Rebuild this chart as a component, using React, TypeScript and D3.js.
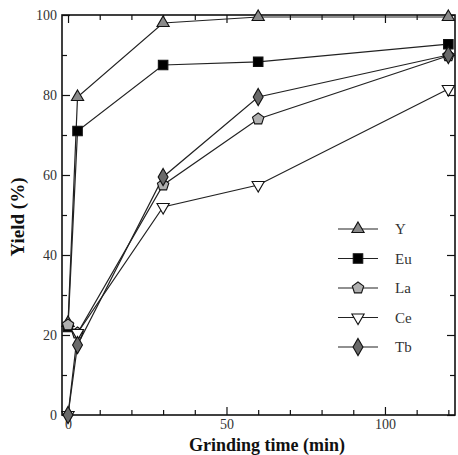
import * as d3 from 'd3';
import { useRef, useEffect } from 'react';

// RENDERING SETUP
const W = 458;
const H = 455;
const FRAME = { LEFT: 62, RIGHT: 455, TOP: 15, BOTTOM: 415 };
const FONT = '"Liberation Serif", "DejaVu Serif", serif';

// DATA
const TIMES = [0, 3, 30, 60, 120];
const Y_VALUES = [23, 79.5, 98, 99.5, 99.5];
const EU_VALUES = [22, 71, 87.5, 88.3, 92.7];
const LA_VALUES = [22.5, 20.5, 57.5, 74, 89.8];
const CE_VALUES = [0, 20.5, 52, 57.5, 81.5];
const TB_VALUES = [0, 17.5, 59.5, 79.5, 90];
const SERIES_NAMES = ['Y', 'Eu', 'La', 'Ce', 'Tb'];
const X_MAJOR = [0, 50, 100];
const Y_MAJOR = [0, 20, 40, 60, 80, 100];

const STYLE: Record<string, { shape: string; fill: string; size: number }> = {
  Y: { shape: 'tri', fill: '#8a8a8a', size: 65 },
  Eu: { shape: 'square', fill: '#000', size: 90 },
  La: { shape: 'penta', fill: '#b0b0b0', size: 85 },
  Ce: { shape: 'triDown', fill: '#fff', size: 65 },
  Tb: { shape: 'diamond', fill: '#6a6a6a', size: 85 },
};

const pentagon = (size: number) => {
  const r = Math.sqrt(size / 2.38);
  const pts = d3.range(5).map((i) => {
    const a = -Math.PI / 2 + (i * 2 * Math.PI) / 5;
    return [r * Math.cos(a), r * Math.sin(a)];
  });
  return 'M' + pts.map((p) => p.join(',')).join('L') + 'Z';
};

const markerPath = (name: string) => {
  const s = STYLE[name];
  if (s.shape === 'penta') return pentagon(s.size);
  const type =
    s.shape === 'square'
      ? d3.symbolSquare
      : s.shape === 'diamond'
      ? d3.symbolDiamond
      : d3.symbolTriangle;
  return d3.symbol().type(type).size(s.size)() as string;
};

const App = () => {
  const svgRef = useRef<SVGSVGElement>(null);

  useEffect(() => {
    const svg = d3.select(svgRef.current);
    svg.selectAll('*').remove();

    const x = d3
      .scaleLinear()
      .domain([-1.9, 122.1])
      .range([FRAME.LEFT, FRAME.RIGHT]);
    const y = d3.scaleLinear().domain([0, 100]).range([FRAME.BOTTOM, FRAME.TOP]);

    const seriesData: Record<string, number[]> = {
      Y: Y_VALUES,
      Eu: EU_VALUES,
      La: LA_VALUES,
      Ce: CE_VALUES,
      Tb: TB_VALUES,
    };

    // frame
    svg
      .append('rect')
      .attr('x', FRAME.LEFT)
      .attr('y', FRAME.TOP)
      .attr('width', FRAME.RIGHT - FRAME.LEFT)
      .attr('height', FRAME.BOTTOM - FRAME.TOP)
      .attr('fill', 'none')
      .attr('stroke', '#111')
      .attr('stroke-width', 1.6);

    const xMinor = d3.range(0, 121, 10).filter((d) => !X_MAJOR.includes(d));
    const yMinor = d3.range(10, 100, 20);

    const styleAxis = (g: any) => {
      g.select('.domain').remove();
      g.selectAll('line').attr('stroke', '#111').attr('stroke-width', 1.2);
      g.selectAll('text')
        .attr('font-family', FONT)
        .attr('font-size', 14)
        .attr('fill', '#333');
    };

    // bottom
    svg
      .append('g')
      .attr('transform', `translate(0,${FRAME.BOTTOM})`)
      .call(d3.axisBottom(x).tickValues(X_MAJOR).tickSizeInner(-8).tickSizeOuter(0).tickPadding(4))
      .call(styleAxis);
    svg
      .append('g')
      .attr('transform', `translate(0,${FRAME.BOTTOM})`)
      .call(d3.axisBottom(x).tickValues(xMinor).tickSizeInner(-5).tickSizeOuter(0).tickFormat(() => ''))
      .call(styleAxis);
    // top
    svg
      .append('g')
      .attr('transform', `translate(0,${FRAME.TOP})`)
      .call(d3.axisTop(x).tickValues(X_MAJOR).tickSizeInner(-8).tickSizeOuter(0).tickFormat(() => ''))
      .call(styleAxis);
    svg
      .append('g')
      .attr('transform', `translate(0,${FRAME.TOP})`)
      .call(d3.axisTop(x).tickValues(xMinor).tickSizeInner(-5).tickSizeOuter(0).tickFormat(() => ''))
      .call(styleAxis);
    // left
    svg
      .append('g')
      .attr('transform', `translate(${FRAME.LEFT},0)`)
      .call(d3.axisLeft(y).tickValues(Y_MAJOR).tickSizeInner(-8).tickSizeOuter(0).tickPadding(5))
      .call(styleAxis);
    svg
      .append('g')
      .attr('transform', `translate(${FRAME.LEFT},0)`)
      .call(d3.axisLeft(y).tickValues(yMinor).tickSizeInner(-5).tickSizeOuter(0).tickFormat(() => ''))
      .call(styleAxis);
    // right
    svg
      .append('g')
      .attr('transform', `translate(${FRAME.RIGHT},0)`)
      .call(d3.axisRight(y).tickValues(Y_MAJOR).tickSizeInner(-8).tickSizeOuter(0).tickFormat(() => ''))
      .call(styleAxis);
    svg
      .append('g')
      .attr('transform', `translate(${FRAME.RIGHT},0)`)
      .call(d3.axisRight(y).tickValues(yMinor).tickSizeInner(-5).tickSizeOuter(0).tickFormat(() => ''))
      .call(styleAxis);

    // axis titles
    svg
      .append('text')
      .attr('x', 267)
      .attr('y', 451)
      .attr('text-anchor', 'middle')
      .attr('font-family', FONT)
      .attr('font-weight', 'bold')
      .attr('font-size', 18)
      .attr('fill', '#111')
      .text('Grinding time  (min)');
    svg
      .append('text')
      .attr('transform', `translate(24,${(FRAME.TOP + FRAME.BOTTOM) / 2 + 2}) rotate(-90)`)
      .attr('text-anchor', 'middle')
      .attr('font-family', FONT)
      .attr('font-weight', 'bold')
      .attr('font-size', 19)
      .attr('fill', '#111')
      .text('Yield  (%)');

    const line = d3
      .line<number>()
      .x((_, i) => x(TIMES[i]))
      .y((d) => y(d));

    const plot = svg.append('g');
    SERIES_NAMES.forEach((name) => {
      plot
        .append('path')
        .attr('d', line(seriesData[name]))
        .attr('fill', 'none')
        .attr('stroke', '#222')
        .attr('stroke-width', 1.2);
    });
    SERIES_NAMES.forEach((name) => {
      const rot = STYLE[name].shape === 'triDown' ? ' rotate(180)' : '';
      plot
        .selectAll(null)
        .data(seriesData[name])
        .join('path')
        .attr('d', markerPath(name))
        .attr('transform', (d, i) => `translate(${x(TIMES[i])},${y(d)})${rot}`)
        .attr('fill', STYLE[name].fill)
        .attr('stroke', '#111')
        .attr('stroke-width', 1.1);
    });

    // legend
    const legendY = d3.scalePoint().domain(SERIES_NAMES).range([229, 347]);
    const legend = svg.append('g');
    SERIES_NAMES.forEach((name) => {
      const ly = legendY(name) as number;
      const rot = STYLE[name].shape === 'triDown' ? ' rotate(180)' : '';
      legend
        .append('line')
        .attr('x1', 338)
        .attr('x2', 378)
        .attr('y1', ly)
        .attr('y2', ly)
        .attr('stroke', '#222')
        .attr('stroke-width', 1.2);
      legend
        .append('path')
        .attr('d', markerPath(name))
        .attr('transform', `translate(358,${ly})${rot}`)
        .attr('fill', STYLE[name].fill)
        .attr('stroke', '#111')
        .attr('stroke-width', 1.1);
      legend
        .append('text')
        .attr('x', 395)
        .attr('y', ly + 5)
        .attr('font-family', FONT)
        .attr('font-size', 15)
        .attr('fill', '#333')
        .text(name);
    });
  }, []);

  return (
    <svg
      ref={svgRef}
      width={W}
      height={H}
      style={{ position: 'absolute', left: 0, top: 0, background: '#fff' }}
    />
  );
};

export default App;
